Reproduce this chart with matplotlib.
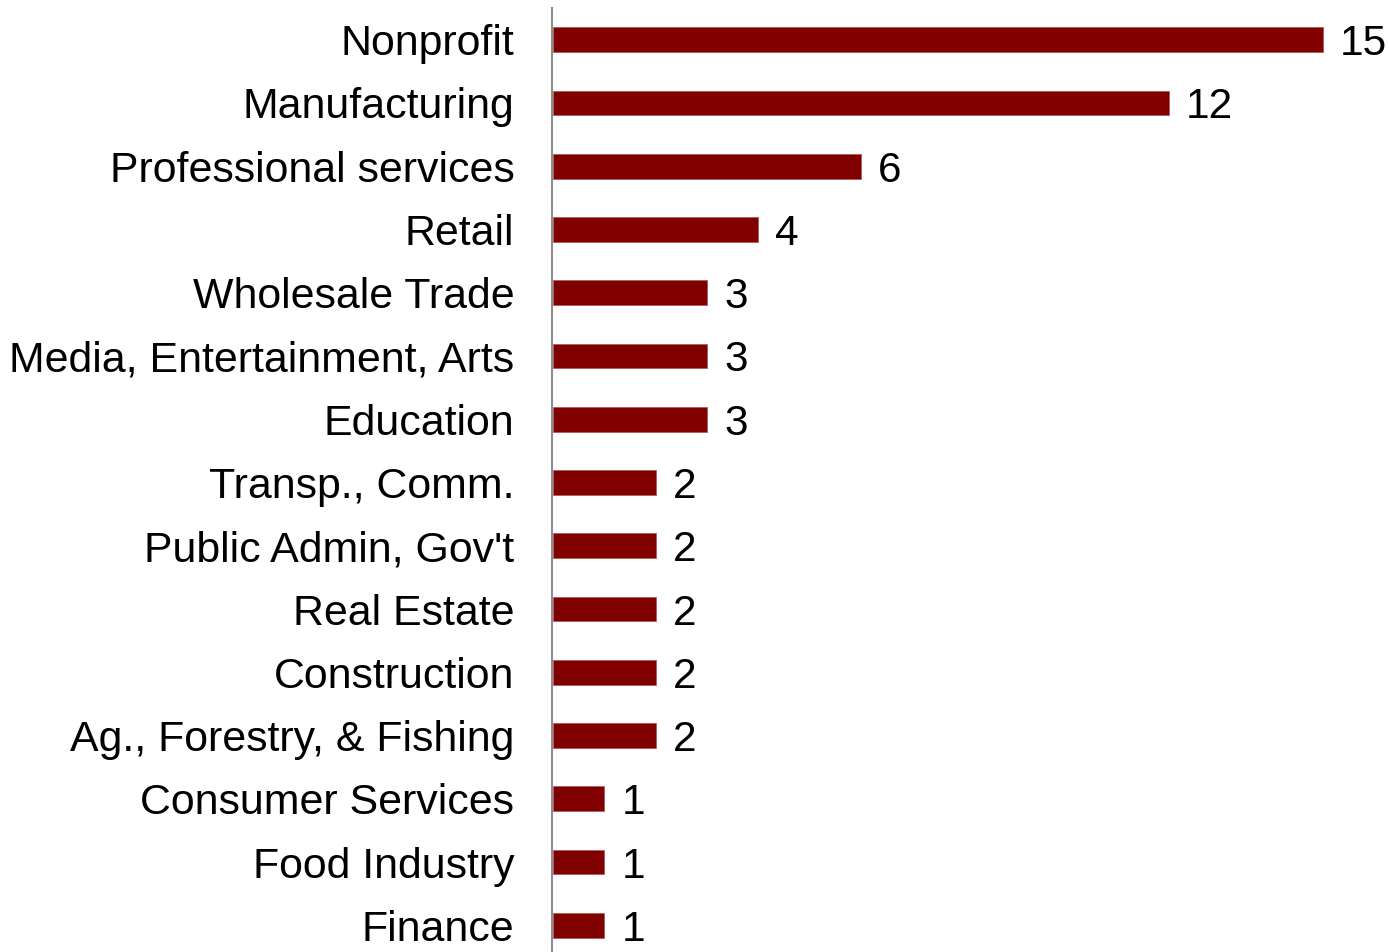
import matplotlib
matplotlib.use("Agg")
import matplotlib.pyplot as plt

categories = ["Nonprofit", "Manufacturing", "Professional services", "Retail",
              "Wholesale Trade", "Media, Entertainment, Arts", "Education",
              "Transp., Comm.", "Public Admin, Gov't", "Real Estate",
              "Construction", "Ag., Forestry, & Fishing", "Consumer Services",
              "Food Industry", "Finance"]
counts = [15, 12, 6, 4, 3, 3, 3, 2, 2, 2, 2, 2, 1, 1, 1]

plt.rcParams["font.family"] = ["Liberation Sans", "DejaVu Sans"]

W, H = 1389, 952
fig = plt.figure(figsize=(W / 100, H / 100), dpi=100)
left = 552 / W
bottom = -5 / H
top = 8 / H
ax = fig.add_axes([left, bottom, 1 - left, 1 - top - bottom])

unit = 51.33
ax.set_xlim(0, (W - 552) / unit)
n = len(categories)
ax.set_ylim(n - 0.5, -0.5)

ypos = list(range(n))
ax.barh(ypos, counts, height=0.39, color="#800000", edgecolor="#b05a5a",
        linewidth=0.6, left=0.02)

for y, v in zip(ypos, counts):
    ax.text(v + 0.02 + 17 / unit, y, str(v), va="center_baseline",
            ha="left", fontsize=30.5, color="black")

ax.set_yticks(ypos)
ax.set_yticklabels(categories, fontsize=30.9)
ax.tick_params(axis="y", length=0, pad=27)
ax.set_xticks([])

for s in ["top", "right", "bottom"]:
    ax.spines[s].set_visible(False)
ax.spines["left"].set_color("#8c8c8c")
ax.spines["left"].set_linewidth(1.5)

fig.savefig("out.png", dpi=100)
